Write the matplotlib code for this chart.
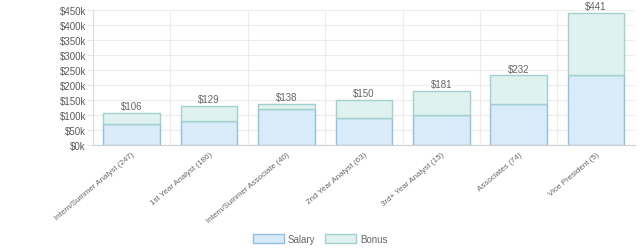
import numpy as np
from matplotlib import pyplot as plt
from matplotlib.ticker import FuncFormatter

plt.rcParams['font.family'] = ['Liberation Sans', 'DejaVu Sans']

categories = ['Intern/Summer Analyst (247)', '1st Year Analyst (186)',
              'Intern/Summer Associate (40)', '2nd Year Analyst (63)',
              '3rd+ Year Analyst (15)', 'Associates (74)', 'Vice President (5)']
salary = [70, 81, 120, 90, 101, 136, 233]
total = [106, 129, 138, 150, 181, 232, 441]
bonus = [t - s for t, s in zip(total, salary)]

fig = plt.figure(figsize=(6.4, 2.53), dpi=100)
ax = fig.add_axes([0.145, 0.423, 0.847, 0.534])

x = np.arange(len(categories))
w = 0.73
ax.bar(x, salary, w, color='#d9eaf8', edgecolor='#92c0de', linewidth=1, label='Salary', zorder=2)
ax.bar(x, bonus, w, bottom=salary, color='#dff2f0', edgecolor='#a2d0cc', linewidth=1, label='Bonus', zorder=2)

for xi, t in zip(x, total):
    ax.text(xi, t + 6, '$%d' % t, ha='center', va='bottom', fontsize=7, color='#666666')

ax.set_xlim(-0.5, len(categories) - 0.5)
ax.set_ylim(0, 450)
ax.set_yticks(np.arange(0, 451, 50))
ax.yaxis.set_major_formatter(FuncFormatter(lambda v, p: '$%dk' % v))
ax.set_xticks(x)
ax.set_xticklabels(categories, rotation=40, ha='right', rotation_mode='anchor', fontsize=5.8, color='#666666')
ax.tick_params(axis='y', labelsize=7, colors='#5a5a5a', length=4, color='#e6e6e6', pad=1)
ax.tick_params(axis='x', length=0, pad=4)

ax.set_xticks(np.arange(-0.5, len(categories), 1), minor=True)
ax.grid(True, which='minor', axis='x', color='#ececec', linewidth=0.8, zorder=0)
ax.grid(True, which='major', axis='y', color='#ececec', linewidth=0.8, zorder=0)
ax.tick_params(axis='x', which='minor', length=0)

for side in ['top', 'right']:
    ax.spines[side].set_visible(False)
ax.spines['left'].set_color('#dddddd')
ax.spines['bottom'].set_color('#cfcfcf')

fig.legend(loc='center', bbox_to_anchor=(0.5, 0.052), ncol=2, frameon=False,
           fontsize=7, handlelength=3.2, handleheight=1.1, columnspacing=1.0,
           handletextpad=0.4, labelcolor='#666666')

fig.savefig('out.png', dpi=100)
